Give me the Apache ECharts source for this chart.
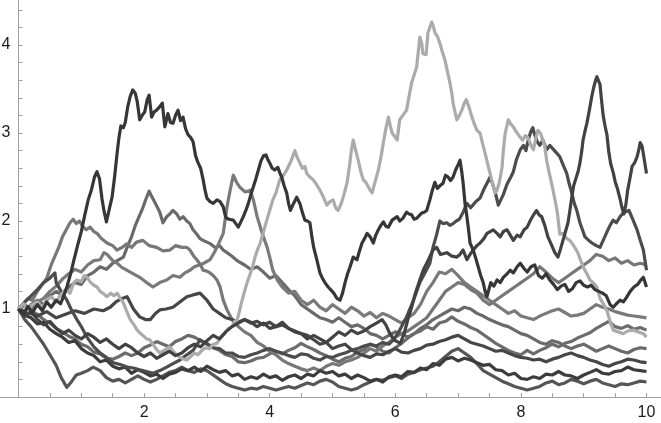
<!DOCTYPE html>
<html><head><meta charset="utf-8">
<script src="https://cdn.jsdelivr.net/npm/echarts@6/dist/echarts.min.js"></script>
<style>html,body{margin:0;padding:0;background:#fff}#c{width:661px;height:423px}</style>
</head><body><div id="c"></div>
<script>
const xTickLabels = [2, 4, 6, 8, 10];
const yTickLabels = [1, 2, 3, 4];

const pathA = [[0,1.0],[0.08,0.94],[0.15,1.03],[0.22,0.96],[0.3,1.05],[0.38,0.98],[0.45,1.08],[0.52,1.02],[0.6,1.1],[0.67,1.06],[0.72,1.15],[0.77,1.25],[0.83,1.4],[0.88,1.55],[0.94,1.72],[1.0,1.88],[1.05,2.05],[1.11,2.24],[1.16,2.35],[1.21,2.5],[1.25,2.56],[1.29,2.48],[1.33,2.25],[1.36,2.12],[1.4,1.99],[1.45,2.15],[1.49,2.27],[1.53,2.5],[1.57,2.77],[1.6,2.95],[1.63,3.08],[1.67,3.06],[1.7,3.12],[1.74,3.3],[1.78,3.42],[1.82,3.49],[1.86,3.45],[1.89,3.36],[1.93,3.15],[1.97,3.2],[2.01,3.24],[2.05,3.38],[2.08,3.43],[2.12,3.18],[2.16,3.24],[2.2,3.26],[2.25,3.3],[2.29,3.34],[2.33,3.07],[2.38,3.22],[2.42,3.12],[2.46,3.11],[2.5,3.2],[2.54,3.26],[2.58,3.14],[2.62,3.18],[2.66,3.05],[2.7,2.98],[2.74,2.95],[2.78,2.9],[2.82,2.74],[2.86,2.66],[2.9,2.6],[2.94,2.47],[2.97,2.35],[3.0,2.26],[3.05,2.22],[3.1,2.2],[3.16,2.24],[3.21,2.22],[3.26,2.16],[3.3,2.04],[3.35,2.02],[3.42,2.01],[3.46,1.97],[3.5,1.93],[3.54,1.99],[3.58,2.05],[3.62,2.12],[3.66,2.2],[3.7,2.3],[3.74,2.39],[3.78,2.48],[3.82,2.58],[3.86,2.68],[3.9,2.74],[3.94,2.75],[3.97,2.7],[4.0,2.66],[4.04,2.6],[4.08,2.58],[4.13,2.61],[4.16,2.55],[4.19,2.5],[4.23,2.4],[4.27,2.32],[4.3,2.2],[4.33,2.12],[4.38,2.2],[4.43,2.27],[4.48,2.2],[4.52,2.1],[4.56,2.01],[4.6,2.0],[4.64,1.98],[4.67,1.83],[4.7,1.7],[4.75,1.56],[4.8,1.41],[4.84,1.35],[4.88,1.3],[4.93,1.25],[4.97,1.22],[5.02,1.18],[5.07,1.12],[5.12,1.1],[5.16,1.18],[5.2,1.3],[5.24,1.4],[5.28,1.48],[5.33,1.59],[5.39,1.56],[5.43,1.66],[5.47,1.75],[5.51,1.8],[5.55,1.86],[5.6,1.82],[5.65,1.75],[5.69,1.84],[5.73,1.9],[5.77,1.95],[5.81,1.99],[5.85,1.94],[5.89,1.93],[5.95,2.01],[5.99,2.03],[6.03,2.05],[6.07,2.0],[6.12,2.03],[6.18,2.1],[6.22,2.08],[6.26,2.07],[6.3,2.02],[6.34,2.03],[6.38,2.06],[6.42,2.09],[6.46,2.1],[6.5,2.12],[6.55,2.24],[6.59,2.35],[6.63,2.44],[6.67,2.37],[6.71,2.4],[6.76,2.43],[6.8,2.52],[6.84,2.5],[6.88,2.46],[6.92,2.5],[6.96,2.58],[7.0,2.64],[7.03,2.69],[7.06,2.55],[7.08,2.43],[7.11,2.2],[7.14,2.05],[7.17,1.88],[7.19,1.75],[7.24,1.67],[7.28,1.58],[7.32,1.48],[7.36,1.38],[7.4,1.3],[7.43,1.2],[7.46,1.14],[7.49,1.22],[7.52,1.3],[7.57,1.26],[7.62,1.33],[7.67,1.3],[7.72,1.36],[7.78,1.4],[7.83,1.44],[7.88,1.41],[7.94,1.48],[7.99,1.52],[8.05,1.46],[8.1,1.42],[8.16,1.48],[8.22,1.5],[8.28,1.38],[8.34,1.35],[8.4,1.4],[8.46,1.33],[8.52,1.28],[8.58,1.22],[8.64,1.26],[8.7,1.28],[8.76,1.2],[8.82,1.23],[8.88,1.3],[8.94,1.32],[9.0,1.27],[9.06,1.25],[9.12,1.27],[9.18,1.22],[9.24,1.2],[9.3,1.18],[9.36,1.15],[9.42,1.05],[9.47,1.02],[9.52,1.06],[9.58,1.1],[9.63,1.08],[9.68,1.13],[9.74,1.2],[9.8,1.25],[9.86,1.28],[9.91,1.33],[9.95,1.36],[10,1.25]];

const pathL = [[0,1.0],[0.08,1.06],[0.15,0.98],[0.22,1.05],[0.3,1.08],[0.38,1.02],[0.45,1.1],[0.52,1.14],[0.6,1.08],[0.67,1.16],[0.75,1.22],[0.82,1.18],[0.88,1.3],[0.93,1.33],[1.0,1.31],[1.05,1.38],[1.09,1.36],[1.15,1.3],[1.2,1.27],[1.25,1.25],[1.3,1.2],[1.36,1.17],[1.41,1.14],[1.47,1.18],[1.52,1.15],[1.57,1.18],[1.62,1.12],[1.67,1.07],[1.72,0.98],[1.78,0.88],[1.84,0.82],[1.89,0.76],[1.93,0.73],[1.98,0.7],[2.04,0.66],[2.09,0.65],[2.14,0.6],[2.2,0.54],[2.25,0.5],[2.3,0.52],[2.36,0.55],[2.41,0.57],[2.46,0.52],[2.52,0.48],[2.57,0.45],[2.63,0.43],[2.68,0.42],[2.74,0.46],[2.8,0.5],[2.86,0.48],[2.92,0.53],[2.98,0.56],[3.04,0.55],[3.1,0.6],[3.16,0.61],[3.22,0.68],[3.28,0.72],[3.34,0.78],[3.4,0.8],[3.44,0.86],[3.48,0.87],[3.52,0.98],[3.56,1.1],[3.6,1.2],[3.64,1.3],[3.68,1.38],[3.72,1.46],[3.77,1.6],[3.81,1.68],[3.85,1.75],[3.89,1.85],[3.93,1.95],[3.97,2.05],[4.0,2.12],[4.05,2.24],[4.1,2.32],[4.16,2.47],[4.22,2.52],[4.27,2.58],[4.32,2.65],[4.36,2.72],[4.4,2.8],[4.44,2.72],[4.48,2.66],[4.52,2.6],[4.56,2.62],[4.59,2.54],[4.64,2.5],[4.69,2.47],[4.74,2.42],[4.8,2.35],[4.85,2.28],[4.91,2.18],[4.96,2.22],[5.01,2.24],[5.05,2.15],[5.09,2.12],[5.14,2.2],[5.19,2.32],[5.23,2.43],[5.27,2.62],[5.3,2.8],[5.33,2.92],[5.37,2.8],[5.41,2.69],[5.45,2.56],[5.49,2.47],[5.53,2.44],[5.57,2.39],[5.6,2.35],[5.63,2.32],[5.68,2.45],[5.73,2.58],[5.77,2.72],[5.81,2.89],[5.85,3.05],[5.89,3.18],[5.92,3.08],[5.95,3.0],[5.99,2.96],[6.03,2.92],[6.07,3.15],[6.12,3.2],[6.18,3.26],[6.22,3.42],[6.26,3.57],[6.3,3.66],[6.34,3.75],[6.37,3.95],[6.39,4.09],[6.42,4.02],[6.44,3.9],[6.49,3.89],[6.52,4.14],[6.55,4.2],[6.58,4.26],[6.61,4.2],[6.63,4.14],[6.67,4.1],[6.71,4.02],[6.75,3.92],[6.79,3.83],[6.83,3.7],[6.87,3.57],[6.9,3.45],[6.92,3.34],[6.95,3.24],[6.98,3.15],[7.02,3.2],[7.06,3.26],[7.1,3.34],[7.13,3.38],[7.18,3.28],[7.22,3.18],[7.26,3.1],[7.3,3.03],[7.35,3.0],[7.39,2.88],[7.43,2.77],[7.47,2.65],[7.51,2.54],[7.55,2.42],[7.59,2.32],[7.62,2.35],[7.66,2.45],[7.7,2.61],[7.72,2.8],[7.75,3.0],[7.8,3.15],[7.84,3.1],[7.88,3.07],[7.92,3.02],[7.95,3.0],[7.99,2.95],[8.03,2.92],[8.07,2.97],[8.11,2.95],[8.16,2.86],[8.2,2.81],[8.24,2.95],[8.27,3.03],[8.31,3.0],[8.34,3.0],[8.38,2.85],[8.41,2.69],[8.45,2.55],[8.5,2.39],[8.54,2.25],[8.58,2.1],[8.62,1.85],[8.67,1.86],[8.73,1.8],[8.78,1.78],[8.84,1.72],[8.9,1.65],[8.99,1.48],[9.05,1.4],[9.1,1.33],[9.15,1.3],[9.21,1.25],[9.26,1.12],[9.32,1.05],[9.37,0.98],[9.42,0.86],[9.47,0.76],[9.55,0.74],[9.63,0.72],[9.7,0.75],[9.79,0.76],[9.87,0.74],[9.95,0.72],[10,0.68]];

const pathB = [[0,1.0],[0.1,0.92],[0.2,0.97],[0.3,0.88],[0.4,0.82],[0.5,0.86],[0.6,0.78],[0.7,0.72],[0.8,0.76],[0.9,0.7],[1.0,0.66],[1.1,0.72],[1.2,0.68],[1.3,0.62],[1.4,0.66],[1.5,0.6],[1.6,0.55],[1.7,0.6],[1.8,0.56],[1.9,0.5],[2.0,0.46],[2.1,0.5],[2.2,0.44],[2.3,0.48],[2.4,0.52],[2.5,0.47],[2.6,0.5],[2.7,0.56],[2.8,0.6],[2.9,0.57],[3.0,0.64],[3.1,0.7],[3.2,0.66],[3.3,0.74],[3.4,0.8],[3.5,0.84],[3.6,0.88],[3.7,0.85],[3.8,0.8],[3.9,0.84],[4.0,0.78],[4.1,0.8],[4.2,0.85],[4.3,0.78],[4.4,0.74],[4.5,0.72],[4.6,0.66],[4.7,0.7],[4.8,0.66],[4.9,0.62],[5.0,0.68],[5.1,0.74],[5.2,0.7],[5.3,0.76],[5.4,0.72],[5.5,0.75],[5.6,0.8],[5.7,0.84],[5.79,0.88],[5.85,0.82],[5.9,0.74],[5.95,0.68],[6.0,0.64],[6.08,0.61],[6.14,0.72],[6.2,0.88],[6.26,1.02],[6.32,1.18],[6.39,1.33],[6.45,1.45],[6.52,1.55],[6.6,1.67],[6.66,1.7],[6.72,1.62],[6.82,1.64],[6.9,1.6],[6.98,1.59],[7.03,1.62],[7.08,1.67],[7.14,1.56],[7.19,1.62],[7.24,1.67],[7.3,1.72],[7.35,1.75],[7.41,1.8],[7.46,1.86],[7.51,1.88],[7.56,1.9],[7.62,1.86],[7.67,1.82],[7.72,1.88],[7.78,1.9],[7.83,1.84],[7.88,1.78],[7.94,1.84],[7.99,1.82],[8.05,1.9],[8.1,1.93],[8.16,2.02],[8.21,2.08],[8.25,2.12],[8.29,2.07],[8.33,2.05],[8.38,1.95],[8.43,1.82],[8.48,1.74],[8.54,1.64],[8.59,1.59],[8.63,1.68],[8.67,1.78],[8.71,1.88],[8.75,1.98],[8.78,2.12],[8.81,2.27],[8.84,2.4],[8.87,2.47],[8.91,2.56],[8.94,2.66],[8.97,2.8],[8.99,2.92],[9.02,3.02],[9.05,3.11],[9.08,3.22],[9.1,3.3],[9.13,3.42],[9.16,3.52],[9.19,3.6],[9.21,3.64],[9.24,3.62],[9.26,3.55],[9.28,3.4],[9.31,3.2],[9.34,3.08],[9.37,2.98],[9.4,2.78],[9.43,2.65],[9.47,2.55],[9.5,2.45],[9.54,2.36],[9.58,2.25],[9.61,2.15],[9.64,2.08],[9.67,2.18],[9.7,2.35],[9.74,2.5],[9.77,2.62],[9.81,2.66],[9.85,2.73],[9.88,2.82],[9.9,2.89],[9.93,2.85],[9.96,2.72],[10,2.54]];

const pathC = [[0,1.0],[0.1,1.08],[0.2,1.15],[0.3,1.22],[0.4,1.3],[0.5,1.35],[0.58,1.41],[0.6,1.3],[0.68,1.2],[0.77,1.1],[0.85,0.98],[0.93,0.88],[1.0,0.8],[1.09,0.68],[1.2,0.57],[1.3,0.5],[1.4,0.45],[1.51,0.39],[1.62,0.37],[1.73,0.34],[1.83,0.33],[1.93,0.31],[2.04,0.29],[2.14,0.27],[2.25,0.3],[2.36,0.34],[2.46,0.38],[2.57,0.42],[2.68,0.48],[2.78,0.53],[2.89,0.65],[3.0,0.6],[3.1,0.56],[3.2,0.55],[3.3,0.5],[3.4,0.5],[3.5,0.46],[3.6,0.45],[3.7,0.48],[3.8,0.5],[3.9,0.53],[4.0,0.55],[4.1,0.52],[4.2,0.5],[4.3,0.47],[4.4,0.45],[4.5,0.49],[4.6,0.48],[4.7,0.44],[4.8,0.42],[4.9,0.46],[5.0,0.45],[5.1,0.48],[5.2,0.5],[5.3,0.53],[5.4,0.55],[5.5,0.58],[5.6,0.6],[5.7,0.58],[5.8,0.62],[5.9,0.6],[5.97,0.65],[6.04,0.72],[6.1,0.8],[6.16,0.88],[6.22,0.98],[6.29,1.1],[6.34,1.2],[6.39,1.3],[6.45,1.38],[6.5,1.45],[6.55,1.52],[6.6,1.7],[6.66,1.85],[6.71,2.0],[6.76,1.97],[6.82,1.98],[6.87,1.95],[6.92,1.97],[6.97,2.0],[7.02,2.02],[7.08,2.1],[7.14,2.2],[7.2,2.15],[7.28,2.22],[7.35,2.26],[7.41,2.36],[7.46,2.43],[7.51,2.5],[7.55,2.42],[7.6,2.3],[7.64,2.18],[7.67,2.16],[7.72,2.3],[7.78,2.42],[7.84,2.5],[7.88,2.56],[7.93,2.7],[7.99,2.81],[8.04,2.86],[8.08,2.8],[8.12,2.93],[8.16,3.02],[8.19,3.06],[8.22,2.98],[8.26,2.9],[8.3,2.86],[8.35,2.92],[8.41,2.81],[8.46,2.86],[8.51,2.82],[8.56,2.78],[8.62,2.73],[8.67,2.64],[8.73,2.54],[8.77,2.42],[8.81,2.32],[8.85,2.2],[8.89,2.12],[8.94,1.98],[8.98,1.9],[9.02,1.82],[9.08,1.78],[9.13,1.75],[9.2,1.72],[9.26,1.7],[9.31,1.78],[9.36,1.86],[9.42,1.95],[9.47,2.01],[9.52,1.98],[9.58,2.05],[9.64,2.1],[9.72,2.12],[9.78,2.02],[9.85,1.9],[9.9,1.78],[9.95,1.67],[10,1.44]];

const pathG1 = [[0,1.0],[0.08,1.06],[0.15,1.12],[0.22,1.1],[0.3,1.2],[0.38,1.28],[0.45,1.35],[0.52,1.5],[0.58,1.6],[0.64,1.7],[0.7,1.82],[0.76,1.9],[0.82,1.98],[0.87,2.02],[0.92,1.97],[0.97,2.0],[1.02,1.94],[1.08,1.9],[1.14,1.93],[1.2,1.88],[1.25,1.86],[1.32,1.8],[1.41,1.75],[1.5,1.72],[1.57,1.67],[1.65,1.7],[1.72,1.74],[1.8,1.7],[1.88,1.76],[1.98,1.78],[2.08,1.72],[2.2,1.7],[2.3,1.66],[2.41,1.67],[2.5,1.72],[2.6,1.7],[2.68,1.7],[2.73,1.67],[2.79,1.6],[2.84,1.56],[2.9,1.5],[2.94,1.44],[3.0,1.43],[3.05,1.41],[3.1,1.38],[3.16,1.33],[3.21,1.25],[3.26,1.1],[3.32,0.99],[3.4,0.88],[3.5,0.8],[3.6,0.74],[3.7,0.7],[3.8,0.62],[3.9,0.58],[4.0,0.52],[4.1,0.48],[4.2,0.42],[4.3,0.38],[4.4,0.35],[4.5,0.32],[4.6,0.3],[4.7,0.33],[4.8,0.3],[4.9,0.35],[5.0,0.38],[5.1,0.36],[5.2,0.4],[5.3,0.42],[5.4,0.45],[5.5,0.5],[5.6,0.55],[5.7,0.52],[5.8,0.58],[5.9,0.62],[6.0,0.68],[6.1,0.72],[6.2,0.75],[6.3,0.8],[6.4,0.85],[6.5,0.9],[6.6,1.0],[6.7,1.1],[6.8,1.2],[6.9,1.25],[7.0,1.3],[7.1,1.28],[7.2,1.22],[7.3,1.18],[7.4,1.1],[7.5,1.05],[7.6,1.1],[7.7,1.15],[7.8,1.2],[7.9,1.25],[8.0,1.3],[8.1,1.35],[8.2,1.4],[8.3,1.48],[8.4,1.42],[8.5,1.35],[8.6,1.3],[8.7,1.35],[8.8,1.4],[8.9,1.45],[9.0,1.5],[9.1,1.55],[9.2,1.62],[9.3,1.6],[9.4,1.55],[9.5,1.58],[9.6,1.52],[9.7,1.55],[9.8,1.5],[9.9,1.52],[10,1.5]];

const pathG2 = [[0,1.0],[0.1,0.95],[0.2,1.05],[0.3,1.1],[0.4,1.05],[0.5,1.15],[0.6,1.2],[0.7,1.15],[0.8,1.25],[0.9,1.3],[1.0,1.28],[1.1,1.38],[1.2,1.42],[1.3,1.48],[1.4,1.45],[1.5,1.52],[1.6,1.56],[1.67,1.59],[1.73,1.7],[1.8,1.82],[1.86,1.95],[1.92,2.05],[1.98,2.15],[2.03,2.25],[2.08,2.34],[2.12,2.28],[2.18,2.2],[2.25,2.1],[2.3,1.98],[2.36,2.05],[2.41,2.08],[2.46,2.12],[2.52,2.08],[2.57,2.02],[2.62,2.05],[2.68,2.0],[2.73,1.97],[2.78,1.9],[2.84,1.85],[2.89,1.8],[2.94,1.78],[3.0,1.76],[3.06,1.74],[3.13,1.7],[3.2,1.72],[3.26,1.67],[3.32,1.64],[3.4,1.6],[3.48,1.55],[3.6,1.5],[3.7,1.45],[3.8,1.48],[3.9,1.42],[4.0,1.35],[4.1,1.38],[4.2,1.3],[4.3,1.22],[4.4,1.15],[4.5,1.05],[4.6,1.0],[4.7,0.95],[4.8,0.9],[4.9,0.88],[5.0,0.85],[5.1,0.9],[5.2,0.85],[5.3,0.8],[5.4,0.82],[5.5,0.78],[5.6,0.72],[5.7,0.7],[5.8,0.66],[5.9,0.7],[6.0,0.74],[6.1,0.72],[6.2,0.68],[6.3,0.72],[6.4,0.78],[6.5,0.82],[6.6,0.88],[6.7,0.92],[6.8,0.96],[6.9,1.0],[7.0,0.98],[7.1,1.02],[7.2,1.0],[7.3,0.95],[7.4,0.92],[7.5,0.88],[7.6,0.85],[7.7,0.82],[7.8,0.8],[7.9,0.76],[8.0,0.72],[8.1,0.7],[8.2,0.66],[8.3,0.62],[8.4,0.6],[8.5,0.64],[8.6,0.62],[8.7,0.58],[8.8,0.55],[8.9,0.58],[9.0,0.6],[9.1,0.56],[9.2,0.52],[9.3,0.55],[9.4,0.58],[9.5,0.55],[9.6,0.52],[9.7,0.5],[9.8,0.54],[9.9,0.56],[10,0.55]];

const pathM = [[0,1.0],[0.1,1.04],[0.2,0.98],[0.3,1.08],[0.4,1.12],[0.5,1.2],[0.6,1.26],[0.7,1.34],[0.8,1.4],[0.9,1.45],[1.0,1.42],[1.1,1.5],[1.2,1.55],[1.3,1.56],[1.36,1.64],[1.41,1.62],[1.5,1.55],[1.57,1.52],[1.65,1.47],[1.73,1.44],[1.83,1.4],[1.93,1.36],[2.04,1.3],[2.14,1.25],[2.25,1.3],[2.36,1.33],[2.46,1.38],[2.57,1.36],[2.65,1.41],[2.73,1.44],[2.8,1.48],[2.88,1.5],[2.95,1.52],[3.05,1.56],[3.1,1.62],[3.16,1.7],[3.21,1.78],[3.26,1.86],[3.32,2.16],[3.37,2.35],[3.42,2.52],[3.48,2.43],[3.53,2.38],[3.61,2.33],[3.69,2.35],[3.74,2.24],[3.8,2.05],[3.88,1.86],[3.96,1.7],[4.0,1.59],[4.05,1.44],[4.12,1.33],[4.2,1.25],[4.3,1.18],[4.4,1.2],[4.5,1.1],[4.6,1.05],[4.7,1.1],[4.8,1.02],[4.9,0.98],[5.0,1.05],[5.1,1.0],[5.2,0.95],[5.3,1.02],[5.4,0.98],[5.5,0.92],[5.6,0.96],[5.7,0.9],[5.8,0.95],[5.9,0.92],[6.0,0.88],[6.1,0.84],[6.2,0.9],[6.3,0.95],[6.4,1.05],[6.5,1.2],[6.6,1.3],[6.7,1.42],[6.8,1.4],[6.9,1.45],[7.0,1.38],[7.1,1.3],[7.2,1.25],[7.3,1.2],[7.4,1.15],[7.5,1.1],[7.6,1.05],[7.7,1.0],[7.8,0.95],[7.9,0.98],[8.0,0.92],[8.1,0.9],[8.2,0.88],[8.3,0.92],[8.4,0.95],[8.5,0.98],[8.6,1.0],[8.7,0.96],[8.8,0.92],[8.9,0.93],[9.0,0.95],[9.1,1.0],[9.2,1.05],[9.3,1.02],[9.4,1.0],[9.5,0.97],[9.6,0.95],[9.7,0.93],[9.8,0.92],[9.9,0.91],[10,0.9]];

const pathD2 = [[0,1.0],[0.15,0.96],[0.3,0.92],[0.45,0.97],[0.6,0.9],[0.75,0.94],[0.9,0.98],[1.05,0.95],[1.2,1.0],[1.35,0.98],[1.46,1.02],[1.55,1.08],[1.65,1.12],[1.73,1.14],[1.83,1.0],[1.93,0.91],[2.02,0.88],[2.1,0.88],[2.18,0.95],[2.25,0.99],[2.35,1.0],[2.46,1.02],[2.57,1.08],[2.68,1.14],[2.78,1.16],[2.89,1.18],[3.0,1.1],[3.1,1.0],[3.2,0.95],[3.3,0.9],[3.4,0.88],[3.5,0.85],[3.6,0.88],[3.7,0.84],[3.8,0.86],[3.9,0.82],[4.0,0.85],[4.1,0.8],[4.2,0.82],[4.3,0.78],[4.4,0.75],[4.5,0.72],[4.6,0.7],[4.7,0.65],[4.8,0.6],[4.9,0.62],[5.0,0.55],[5.1,0.58],[5.2,0.6],[5.3,0.54],[5.4,0.5],[5.5,0.47],[5.6,0.45],[5.7,0.49],[5.8,0.48],[5.9,0.52],[6.0,0.55],[6.1,0.51],[6.2,0.5],[6.3,0.53],[6.4,0.55],[6.5,0.59],[6.6,0.6],[6.7,0.63],[6.8,0.65],[6.9,0.68],[7.0,0.7],[7.1,0.66],[7.2,0.62],[7.3,0.6],[7.4,0.58],[7.5,0.55],[7.6,0.52],[7.7,0.53],[7.8,0.5],[7.9,0.47],[8.0,0.45],[8.1,0.44],[8.2,0.42],[8.3,0.43],[8.4,0.4],[8.5,0.43],[8.6,0.45],[8.7,0.48],[8.8,0.5],[8.9,0.47],[9.0,0.45],[9.1,0.42],[9.2,0.4],[9.3,0.37],[9.4,0.35],[9.5,0.38],[9.6,0.4],[9.7,0.43],[9.8,0.42],[9.9,0.4],[10,0.39]];

const pathP1 = [[0,1.0],[0.1,0.88],[0.2,0.8],[0.3,0.7],[0.4,0.6],[0.5,0.48],[0.6,0.36],[0.68,0.22],[0.77,0.11],[0.85,0.18],[0.92,0.25],[1.0,0.27],[1.1,0.3],[1.19,0.34],[1.3,0.3],[1.4,0.22],[1.5,0.18],[1.6,0.2],[1.7,0.16],[1.8,0.2],[1.9,0.24],[2.0,0.2],[2.1,0.17],[2.2,0.2],[2.3,0.24],[2.4,0.28],[2.5,0.3],[2.6,0.34],[2.7,0.3],[2.8,0.28],[2.9,0.32],[3.0,0.3],[3.1,0.25],[3.2,0.2],[3.3,0.15],[3.4,0.12],[3.5,0.1],[3.6,0.08],[3.7,0.1],[3.8,0.09],[3.9,0.12],[4.0,0.1],[4.1,0.08],[4.2,0.1],[4.3,0.12],[4.4,0.1],[4.5,0.13],[4.6,0.16],[4.7,0.14],[4.8,0.18],[4.9,0.2],[5.0,0.17],[5.1,0.12],[5.2,0.1],[5.3,0.08],[5.4,0.1],[5.5,0.14],[5.6,0.17],[5.7,0.2],[5.8,0.19],[5.9,0.22],[6.0,0.24],[6.1,0.21],[6.2,0.26],[6.3,0.28],[6.4,0.31],[6.5,0.33],[6.6,0.35],[6.7,0.4],[6.8,0.46],[6.9,0.52],[7.0,0.55],[7.1,0.5],[7.2,0.45],[7.3,0.38],[7.4,0.3],[7.5,0.26],[7.6,0.22],[7.7,0.18],[7.8,0.15],[7.9,0.12],[8.0,0.1],[8.1,0.08],[8.2,0.1],[8.3,0.12],[8.4,0.16],[8.5,0.18],[8.6,0.14],[8.7,0.16],[8.8,0.2],[8.9,0.18],[9.0,0.15],[9.1,0.18],[9.2,0.2],[9.3,0.16],[9.4,0.14],[9.5,0.12],[9.6,0.15],[9.7,0.14],[9.8,0.16],[9.9,0.18],[10,0.17]];

const pathP2 = [[0,1.0],[0.1,0.93],[0.2,0.9],[0.3,0.83],[0.4,0.85],[0.5,0.77],[0.6,0.72],[0.7,0.68],[0.8,0.62],[0.9,0.64],[1.0,0.55],[1.1,0.5],[1.2,0.47],[1.3,0.4],[1.4,0.42],[1.5,0.35],[1.6,0.32],[1.7,0.34],[1.8,0.27],[1.9,0.31],[2.0,0.28],[2.1,0.24],[2.2,0.26],[2.3,0.21],[2.4,0.26],[2.5,0.28],[2.6,0.32],[2.7,0.3],[2.8,0.34],[2.9,0.29],[3.0,0.35],[3.1,0.31],[3.2,0.28],[3.3,0.3],[3.4,0.24],[3.5,0.26],[3.6,0.2],[3.7,0.23],[3.8,0.21],[3.9,0.26],[4.0,0.22],[4.1,0.24],[4.2,0.19],[4.3,0.23],[4.4,0.25],[4.5,0.21],[4.6,0.26],[4.7,0.24],[4.8,0.3],[4.9,0.27],[5.0,0.29],[5.1,0.24],[5.2,0.26],[5.3,0.21],[5.4,0.25],[5.5,0.22],[5.6,0.18],[5.7,0.2],[5.8,0.17],[5.9,0.23],[6.0,0.25],[6.1,0.23],[6.2,0.29],[6.3,0.28],[6.4,0.33],[6.5,0.31],[6.6,0.38],[6.7,0.36],[6.8,0.43],[6.9,0.45],[7.0,0.41],[7.1,0.44],[7.2,0.42],[7.3,0.39],[7.4,0.36],[7.5,0.37],[7.6,0.31],[7.7,0.3],[7.8,0.25],[7.9,0.27],[8.0,0.21],[8.1,0.2],[8.2,0.23],[8.3,0.21],[8.4,0.26],[8.5,0.25],[8.6,0.29],[8.7,0.25],[8.8,0.24],[8.9,0.21],[9.0,0.25],[9.1,0.28],[9.2,0.31],[9.3,0.27],[9.4,0.26],[9.5,0.29],[9.6,0.3],[9.7,0.34],[9.8,0.31],[9.9,0.3],[10,0.29]];

const pathP3 = [[0,1.0],[0.1,1.05],[0.2,0.98],[0.3,0.94],[0.4,0.88],[0.5,0.84],[0.6,0.78],[0.7,0.74],[0.8,0.69],[0.9,0.66],[1.0,0.6],[1.1,0.57],[1.2,0.51],[1.3,0.49],[1.4,0.44],[1.5,0.43],[1.6,0.46],[1.7,0.5],[1.8,0.47],[1.9,0.5],[2.0,0.56],[2.1,0.59],[2.2,0.63],[2.3,0.6],[2.4,0.57],[2.5,0.63],[2.6,0.66],[2.7,0.7],[2.8,0.68],[2.9,0.64],[3.0,0.61],[3.1,0.56],[3.2,0.53],[3.3,0.48],[3.4,0.46],[3.5,0.4],[3.6,0.39],[3.7,0.41],[3.8,0.44],[3.9,0.45],[4.0,0.49],[4.1,0.52],[4.2,0.49],[4.3,0.53],[4.4,0.56],[4.5,0.61],[4.6,0.57],[4.7,0.54],[4.8,0.5],[4.9,0.47],[5.0,0.43],[5.1,0.4],[5.2,0.44],[5.3,0.46],[5.4,0.51],[5.5,0.54],[5.6,0.6],[5.7,0.57],[5.8,0.52],[5.9,0.5],[6.0,0.56],[6.1,0.61],[6.2,0.67],[6.3,0.72],[6.4,0.75],[6.5,0.8],[6.6,0.77],[6.7,0.84],[6.8,0.86],[6.9,0.91],[7.0,0.86],[7.1,0.83],[7.2,0.79],[7.3,0.76],[7.4,0.71],[7.5,0.66],[7.6,0.61],[7.7,0.57],[7.8,0.53],[7.9,0.5],[8.0,0.48],[8.1,0.53],[8.2,0.49],[8.3,0.53],[8.4,0.56],[8.5,0.6],[8.6,0.57],[8.7,0.61],[8.8,0.63],[8.9,0.67],[9.0,0.7],[9.1,0.73],[9.2,0.78],[9.3,0.82],[9.4,0.86],[9.5,0.8],[9.6,0.78],[9.7,0.81],[9.8,0.77],[9.9,0.79],[10,0.76]];

const paths = [
  { name: 'P3', data: pathP3, color: '#6c6c6c' },
  { name: 'G2', data: pathG2, color: '#6a6a6a' },
  { name: 'P1', data: pathP1, color: '#555555' },
  { name: 'M', data: pathM, color: '#7a7a7a' },
  { name: 'G1', data: pathG1, color: '#777777' },
  { name: 'P2', data: pathP2, color: '#3c3c3c' },
  { name: 'D2', data: pathD2, color: '#464646' },
  { name: 'C', data: pathC, color: '#4c4c4c' },
  { name: 'L', data: pathL, color: '#ababab' },
  { name: 'B', data: pathB, color: '#424242' },
  { name: 'A', data: pathA, color: '#363636' }
];

const chart = echarts.init(document.getElementById('c'), null, { renderer: 'canvas' });
const axisColor = '#a0a0a0';
const xMin = -0.5;
const gridLeft = -12.9;
const gridRight = -16.9;
const plotW = 661 - gridLeft - gridRight;
const yAxisShift = -(0 - xMin) / (10.5 - xMin) * plotW;
chart.setOption({
  animation: false,
  grid: { left: gridLeft, right: gridRight, top: -7.8, bottom: 26, containLabel: false, outerBoundsMode: 'none' },
  xAxis: {
    type: 'value', min: xMin, max: 10.5, interval: 0.5,
    splitLine: { show: false },
    axisLine: { show: true, onZero: true, lineStyle: { color: axisColor, width: 1 } },
    axisTick: { show: true, inside: true, length: 4, interval: 0, lineStyle: { color: axisColor } },
    axisLabel: {
      margin: 8, color: '#1a1a1a', fontSize: 16, fontFamily: 'Liberation Sans, Arial, sans-serif',
      interval: 0, hideOverlap: false,
      formatter: v => xTickLabels.includes(Math.round(v * 100) / 100) ? String(Math.round(v)) : ''
    }
  },
  yAxis: {
    type: 'value', min: 0, max: 4.6, interval: 0.2, position: 'left', offset: yAxisShift,
    splitLine: { show: false },
    axisLine: { show: true, onZero: false, lineStyle: { color: axisColor, width: 1 } },
    axisTick: { show: true, inside: true, length: 4, interval: 0, lineStyle: { color: axisColor } },
    axisLabel: {
      show: true, inside: false, margin: 8, color: '#1a1a1a', fontSize: 16, fontFamily: 'Liberation Sans, Arial, sans-serif',
      interval: 0, hideOverlap: false, showMinLabel: true, showMaxLabel: true,
      formatter: v => { const r = Math.round(v); return (Math.abs(v - r) < 1e-6 && yTickLabels.includes(r)) ? String(r) : ''; }
    }
  },
  series: paths.map(p => ({
    type: 'line', name: p.name, data: p.data, showSymbol: false, symbol: 'none',
    silent: true, lineStyle: { width: 3.2, color: p.color, join: 'round' }, itemStyle: { color: p.color }
  }))
});
</script></body></html>
